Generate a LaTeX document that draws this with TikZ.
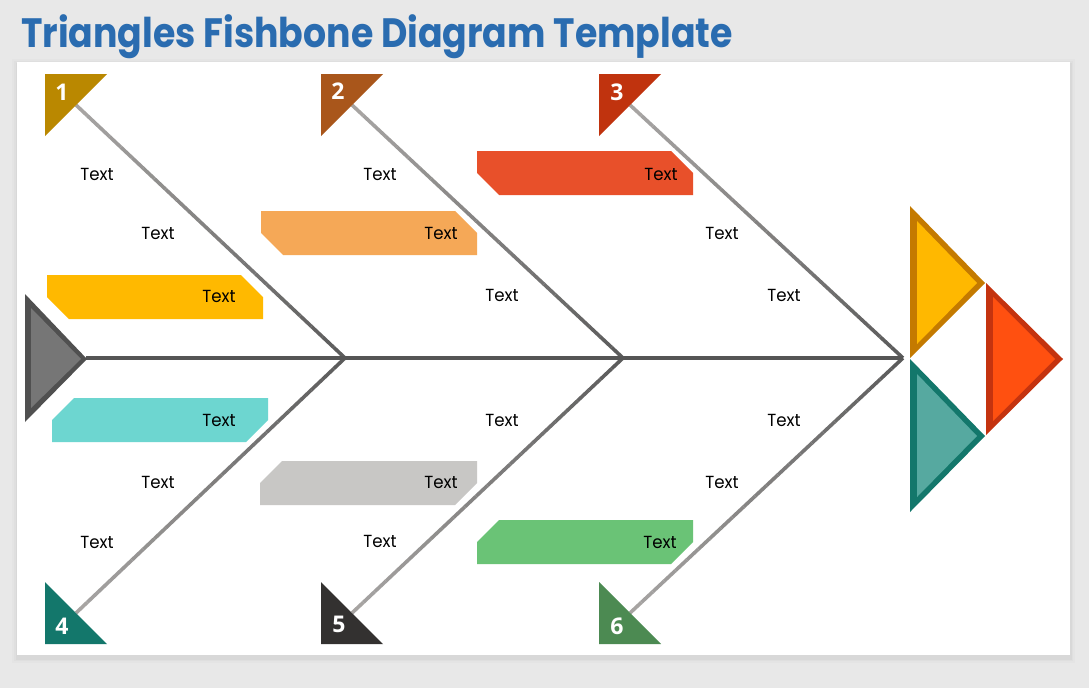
\documentclass[tikz,border=0pt]{standalone}
\usepackage{fontspec}
\setmainfont{Poppins}
\newfontfamily\numfont{Open Sans}
\usetikzlibrary{calc}
\definecolor{bgc}{HTML}{E8E8E8}
\definecolor{titlec}{HTML}{2A6CB0}
\definecolor{spinec}{HTML}{555555}
\definecolor{bonelight}{HTML}{A8A6A4}
\definecolor{bonedark}{HTML}{5A5A5A}
\definecolor{t1}{HTML}{BA8800}
\definecolor{t2}{HTML}{A9561B}
\definecolor{t3}{HTML}{C0330E}
\definecolor{t4}{HTML}{13776B}
\definecolor{t5}{HTML}{333130}
\definecolor{t6}{HTML}{4C8A52}
\definecolor{byellow}{HTML}{FFB900}
\definecolor{bteal}{HTML}{6DD6D0}
\definecolor{borange}{HTML}{F5A857}
\definecolor{bred}{HTML}{E8502A}
\definecolor{bgray}{HTML}{C8C7C5}
\definecolor{bgreen}{HTML}{6AC376}
\definecolor{leftfill}{HTML}{767676}
\definecolor{leftedge}{HTML}{505050}
\definecolor{yfill}{HTML}{FFB800}
\definecolor{yedge}{HTML}{C47A00}
\definecolor{rfill}{HTML}{FF5010}
\definecolor{redge}{HTML}{C4330F}
\definecolor{gfill}{HTML}{56A9A0}
\definecolor{gedge}{HTML}{13776B}
\tikzset{
  lbl/.style={font=\fontsize{17.5}{19}\selectfont, text=black, inner sep=0pt, xscale=0.95},
  num/.style={font=\numfont\fontsize{23}{24}\selectfont\bfseries, text=white, inner sep=0pt},
  spineline/.style={draw=spinec, line width=4pt},
}
\newcommand\fbUp[5]{% x1,y1,x2,y2,color
  \fill[#5] (#1,#2) -- (#3-22,#2) -- (#3,#2+22) -- (#3,#4) -- (#1+22,#4) -- (#1,#4-22) -- cycle;}
\newcommand\fbDown[5]{%
  \fill[#5] (#1+22,#2) -- (#3,#2) -- (#3,#4-22) -- (#3-22,#4) -- (#1,#4) -- (#1,#2+22) -- cycle;}
\newcommand\fbBone[2]{%
  \foreach \i in {0,...,23}{
    \pgfmathsetmacro\pa{\i/24}
    \pgfmathsetmacro\pb{(\i+1)/24}
    \pgfmathtruncatemacro\pc{100*(\i+0.5)/24}
    \draw[line width=3.6pt, bonedark!\pc!bonelight] ($(#1)!\pa!(#2)$) -- ($(#1)!\pb!(#2)$);
  }}
\begin{document}
\begin{tikzpicture}[x=1pt,y=-1pt]
\useasboundingbox (0,0) rectangle (1089,688);
\fill[bgc] (0,0) rectangle (1089,688);
% panel shadow and panel
\foreach \k/\o in {5/0.015,3/0.02,1.5/0.03}{
  \fill[black, opacity=\o] (17-\k,62-\k+2) rectangle (1070+\k,655+\k+3);
}
\fill[white] (17,62) rectangle (1070,655);
% title
\node[anchor=base west, inner sep=0pt, text=titlec, xscale=0.885, font=\fontsize{41}{44}\selectfont\bfseries] (title) at (21,47) {Triangles Fishbone Diagram Template};

% coordinates
\coordinate (j1) at (345,358);
\coordinate (j2) at (623,358);
\coordinate (j3) at (903,358);
\coordinate (tail) at (86,358);
\coordinate (s1) at (76,105);
\coordinate (s2) at (352,105);
\coordinate (s3) at (630,105);
\coordinate (s4) at (76,613);
\coordinate (s5) at (352,613);
\coordinate (s6) at (630,613);

% bones
\fbBone{s1}{j1}
\fbBone{s4}{j1}
\fbBone{s2}{j2}
\fbBone{s5}{j2}
\fbBone{s3}{j3}
\fbBone{s6}{j3}
% spine
\draw[spineline] (tail) -- (j3);

% number triangles
\fill[t1] (45,74) -- (107,74) -- (45,136) -- cycle;
\fill[t2] (321,74) -- (383,74) -- (321,136) -- cycle;
\fill[t3] (599,74) -- (661,74) -- (599,136) -- cycle;
\fill[t4] (45,582) -- (107,644) -- (45,644) -- cycle;
\fill[t5] (321,582) -- (383,644) -- (321,644) -- cycle;
\fill[t6] (599,582) -- (661,644) -- (599,644) -- cycle;
\node[num] (n1) at (62,92) {1};
\node[num] (n2) at (338,91) {2};
\node[num] (n3) at (617,92) {3};
\node[num] (n4) at (62,626) {4};
\node[num] (n5) at (339,624) {5};
\node[num] (n6) at (617,626) {6};

% left tail triangle
\fill[leftedge] (25,294) -- (87,359) -- (25,422) -- cycle;
\fill[leftfill] (31,308) -- (81,359) -- (31,408) -- cycle;

% right head triangles
\fill[yedge] (910,206) -- (985,283) -- (910,358) -- cycle;
\fill[yfill] (917,221) -- (977,283) -- (917,344) -- cycle;
\fill[gedge] (910,359) -- (985,436) -- (910,512) -- cycle;
\fill[gfill] (917,374) -- (977,436) -- (917,497) -- cycle;
\fill[redge] (986,283) -- (1063,359) -- (986,435) -- cycle;
\fill[rfill] (993,297) -- (1055,359) -- (993,421) -- cycle;

% boxes
\fbUp{47}{275}{263}{319}{byellow}
\fbDown{52}{398}{268}{442}{bteal}
\fbUp{261}{211}{477}{255}{borange}
\fbDown{260}{461}{477}{505}{bgray}
\fbUp{477}{151}{693}{195}{bred}
\fbDown{477}{520}{693}{564}{bgreen}

% labels
\node[lbl] (a1) at (97,174) {Text};
\node[lbl] (a2) at (158,233) {Text};
\node[lbl] (a3) at (219,296) {Text};
\node[lbl] (a4) at (219,420) {Text};
\node[lbl] (a5) at (158,482) {Text};
\node[lbl] (a6) at (97,542) {Text};
\node[lbl] (b1) at (380,174) {Text};
\node[lbl] (b2) at (441,233) {Text};
\node[lbl] (b3) at (502,295) {Text};
\node[lbl] (b4) at (502,420) {Text};
\node[lbl] (b5) at (441,482) {Text};
\node[lbl] (b6) at (380,541) {Text};
\node[lbl] (c1) at (661,174) {Text};
\node[lbl] (c2) at (722,233) {Text};
\node[lbl] (c3) at (784,295) {Text};
\node[lbl] (c4) at (784,420) {Text};
\node[lbl] (c5) at (722,482) {Text};
\node[lbl] (c6) at (660,542) {Text};
\end{tikzpicture}
\end{document}
